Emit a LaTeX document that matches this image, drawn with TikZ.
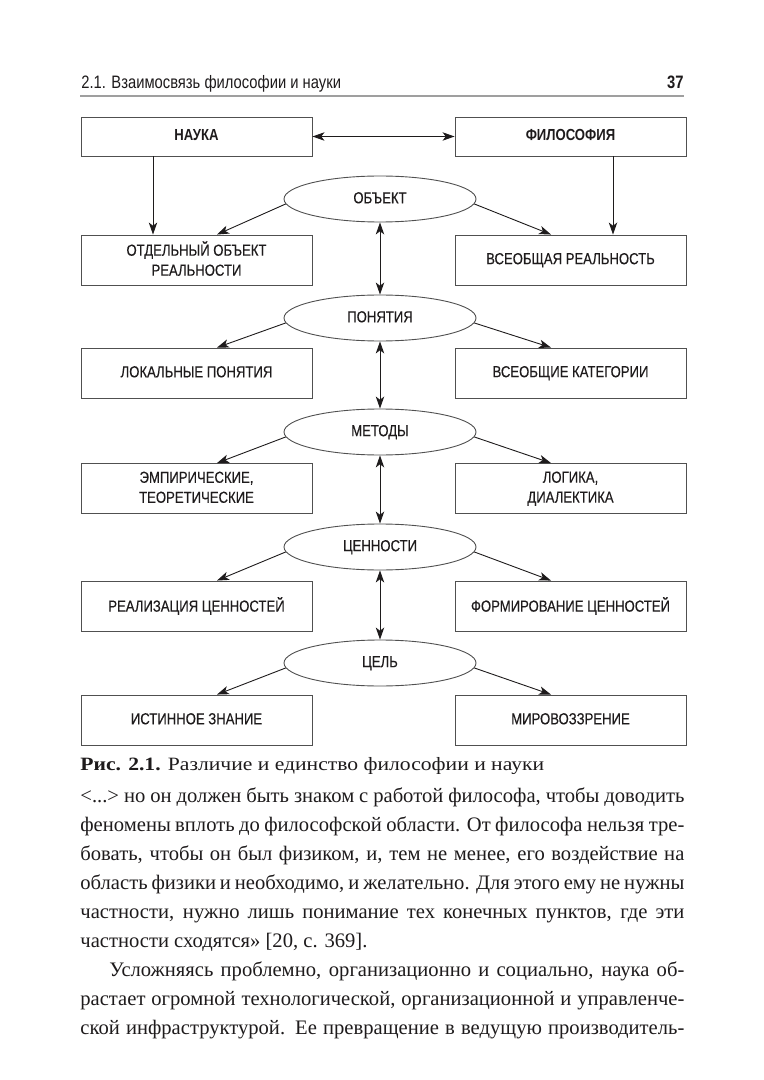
\documentclass[tikz,border=0pt]{standalone}
\usepackage{fontspec}
\setmainfont{Liberation Serif}
\newfontfamily\narrowsans[FakeStretch=0.82,FakeBold=0.3]{Liberation Sans}
\newfontfamily\hdrsans[FakeStretch=0.82]{Liberation Sans}
\newfontfamily\capfont[FakeStretch=1.15]{Liberation Serif}
\usetikzlibrary{arrows.meta,shapes.geometric,calc}
\definecolor{ink}{HTML}{1E1B1C}
\definecolor{frame}{HTML}{505050}
\newcommand\bs{\rule[-1.5pt]{0pt}{7.3pt}}
\begin{document}
\begin{tikzpicture}[x=0.5pt,y=-0.5pt,
  box/.style={draw=frame,line width=0.45pt,minimum width=115.5pt,minimum height=25pt,inner sep=0pt,align=center,
    font=\narrowsans\fontsize{8}{10}\selectfont,text=ink},
  topbox/.style={box,minimum height=19.5pt,font=\hdrsans\bfseries\fontsize{8}{10}\selectfont},
  oval/.style={ellipse,draw=frame,line width=0.45pt,minimum width=96pt,minimum height=23pt,inner sep=0pt,
    font=\narrowsans\fontsize{8}{10}\selectfont,text=ink},
  tip/.tip={Stealth[length=6pt,width=4.2pt,inset=1.6pt]},
  conn/.style={draw=ink,line width=0.45pt,-tip},
  biconn/.style={draw=ink,line width=0.45pt,tip-tip},
  bodyline/.style={anchor=base west,inner sep=0pt,font=\fontsize{10.3}{12}\selectfont,text=ink}]

\useasboundingbox[fill=white] (0,0) rectangle (764,1080);

% header
\node[anchor=base west,inner sep=0pt,font=\hdrsans\fontsize{9}{11}\selectfont,text=ink] (hdr) at (81,89) {2.1. Взаимосвязь философии и науки};
\node[anchor=base east,inner sep=0pt,font=\hdrsans\bfseries\fontsize{9}{11}\selectfont,text=ink] (pg) at (684,89) {37};
\draw[gray!75,line width=0.7pt] (80,96) -- (684,96);

% top row
\node[topbox] (N) at (196.5,136.5) {\bs НАУКА};
\node[topbox] (F) at (570.5,136.5) {\bs ФИЛОСОФИЯ};
\draw[biconn] (N.east) -- (F.west);

% ellipses
\node[oval] (E1) at (380,199) {\bs ОБЪЕКТ};
\node[oval] (E2) at (380,318) {\bs ПОНЯТИЯ};
\node[oval] (E3) at (380,432) {\bs МЕТОДЫ};
\node[oval] (E4) at (380,547) {\bs ЦЕННОСТИ};
\node[oval] (E5) at (380,663) {\bs ЦЕЛЬ};

% boxes
\node[box] (L1) at (196.5,260) {\bs ОТДЕЛЬНЫЙ ОБЪЕКТ\\\bs РЕАЛЬНОСТИ};
\node[box] (R1) at (570.5,260) {\bs ВСЕОБЩАЯ РЕАЛЬНОСТЬ};
\node[box] (L2) at (196.5,373) {\bs ЛОКАЛЬНЫЕ ПОНЯТИЯ};
\node[box] (R2) at (570.5,373) {\bs ВСЕОБЩИЕ КАТЕГОРИИ};
\node[box] (L3) at (196.5,488.5) {\bs ЭМПИРИЧЕСКИЕ,\\\bs ТЕОРЕТИЧЕСКИЕ};
\node[box] (R3) at (570.5,488.5) {\bs ЛОГИКА,\\\bs ДИАЛЕКТИКА};
\node[box] (L4) at (196.5,606) {\bs РЕАЛИЗАЦИЯ ЦЕННОСТЕЙ};
\node[box] (R4) at (570.5,606) {\bs ФОРМИРОВАНИЕ ЦЕННОСТЕЙ};
\node[box] (L5) at (196.5,720) {\bs ИСТИННОЕ ЗНАНИЕ};
\node[box] (R5) at (570.5,720) {\bs МИРОВОЗЗРЕНИЕ};

% vertical arrows from top boxes
\draw[conn] (153,0 |- N.south) -- (153,0 |- L1.north);
\draw[conn] (613,0 |- F.south) -- (613,0 |- R1.north);

% diagonal arrows
\foreach \i in {1,...,5}{
  \draw[conn] (E\i.183) -- (217,0 |- L\i.north);
  \draw[conn] (E\i.-3) -- (551,0 |- R\i.north);
}
% vertical double arrows
\foreach \i/\j in {1/2,2/3,3/4,4/5}{
  \draw[biconn] (E\i.south) -- (E\j.north);
}

% caption
\node[anchor=base west,inner sep=0pt,font=\capfont\fontsize{9.4}{11}\selectfont,text=ink] (cap) at (80,770)
  {\textbf{Рис. 2.1.} Различие и единство философии и науки};

% body text
\node[bodyline] (t1) at (80,802) {\makebox[302pt][s]{<...> но он должен быть знаком с работой философа, чтобы доводить}};
\node[bodyline] (t2) at (80,831) {\makebox[302pt][s]{феномены вплоть до философской области. От философа нельзя тре-}};
\node[bodyline] (t3) at (80,860) {\makebox[302pt][s]{бовать, чтобы он был физиком, и, тем не менее, его воздействие на}};
\node[bodyline] (t4) at (80,889) {\makebox[302pt][s]{область физики и необходимо, и желательно. Для этого ему не нужны}};
\node[bodyline] (t5) at (80,918) {\makebox[302pt][s]{частности, нужно лишь понимание тех конечных пунктов, где эти}};
\node[bodyline] (t6) at (80,947) {частности сходятся» [20, с. 369].};
\node[bodyline] (t7) at (80,976) {\makebox[302pt][s]{\hspace{14.5pt}Усложняясь проблемно, организационно и социально, наука об-}};
\node[bodyline] (t8) at (80,1005) {\makebox[302pt][s]{растает огромной технологической, организационной и управленче-}};
\node[bodyline] (t9) at (80,1034) {\makebox[302pt][s]{ской инфраструктурой. Ее превращение в ведущую производитель-}};
\end{tikzpicture}
\end{document}
